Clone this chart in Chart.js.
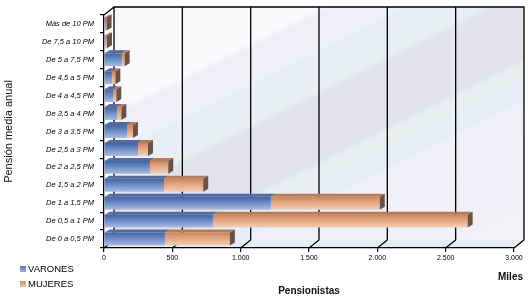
<!DOCTYPE html>
<html>
<head>
<meta charset="utf-8">
<script src="https://cdn.jsdelivr.net/npm/chart.js"></script>
<style>
  body { margin: 0; background: #fff; }
  #contenedor { position: relative; width: 530px; height: 301px; font-family: "Liberation Sans", Arial, sans-serif; }
  #leyenda { position: absolute; left: 20px; top: 262px; font-size: 9.5px; color: #000; line-height: 14.5px; }
  #leyenda span { display: inline-block; width: 6px; height: 6px; margin-right: 2px; vertical-align: 0px; }
  #miles { position: absolute; left: 498px; top: 271px; font-size: 10px; font-weight: bold; color: #111; }
</style>
</head>
<body>
<div id="contenedor">
  <canvas id="grafica" width="530" height="301"></canvas>
  <div id="leyenda">
    <div><span style="background:linear-gradient(#5677b8,#9cb3e0)"></span>VARONES</div>
    <div><span style="background:linear-gradient(#d08c5e,#f2c6a8)"></span>MUJERES</div>
  </div>
  <div id="miles">Miles</div>
</div>
<script>
// datos (miles de pensionistas), de arriba a abajo
const categorias = ['Más de 10 PM', 'De 7,5 a 10 PM', 'De 5 a 7,5 PM', 'De 4,5 a 5 PM', 'De 4 a 4,5 PM',
    'De 3,5 a 4 PM', 'De 3 a 3,5 PM', 'De 2,5 a 3 PM', 'De 2 a 2,5 PM', 'De 1,5 a 2 PM',
    'De 1 a 1,5 PM', 'De 0,5 a 1 PM', 'De 0 a 0,5 PM'];
const varones = [14, 12, 131, 58, 66, 97, 168, 249, 336, 439, 1221, 797, 446];
const mujeres = [5, 10, 20, 25, 24, 30, 44, 73, 134, 287, 797, 1864, 475];
const ejeX = [0, 500, 1000, 1500, 2000, 2500, 3000];

const FUENTE = '"Liberation Sans", Arial, sans-serif';
const GROSOR = 0.72;
const FONDO_DX = 10, FONDO_DY = 8;
const BARRA_DX = 5, BARRA_DY = 3;

function miles(v) { return String(v).replace(/\B(?=(\d{3})+(?!\d))/g, '.'); }

function degradado(paradas, plano) {
    return function (c) {
        const ys = c.chart.scales.y;
        if (c.dataIndex === undefined || !ys || ys.bottom == null) return plano;
        const banda = (ys.bottom - ys.top) / categorias.length;
        const cy = ys.getPixelForValue(c.dataIndex);
        const h = banda * GROSOR;
        const g = c.chart.ctx.createLinearGradient(0, cy - h / 2, 0, cy + h / 2);
        paradas.forEach(p => g.addColorStop(p[0], p[1]));
        return g;
    };
}

// pared del fondo con bandas diagonales y rejilla en perspectiva
const paredFondo = {
    id: 'paredFondo',
    beforeDraw(chart) {
        const { ctx, chartArea: a, scales: { x } } = chart;
        const l = a.left + FONDO_DX, r = a.right + FONDO_DX, t = a.top - FONDO_DY, b = a.bottom - FONDO_DY;
        ctx.save();
        const g = ctx.createLinearGradient(0, 0, 200, 400);
        const bandas = [[0, '#f9f9fb'], [0.335, '#f9f9fb'], [0.345, '#efeff8'], [0.415, '#efeff8'], [0.425, '#e7eef8'],
            [0.465, '#e7eef8'], [0.475, '#e7f0ef'], [0.5, '#e7f0ef'], [0.51, '#e3e3ed'], [0.64, '#e3e3ed'],
            [0.65, '#e7f0ef'], [0.68, '#e7f0ef'], [0.69, '#e7eef8'], [0.72, '#e7eef8'], [0.73, '#efeff8'], [1, '#f1f1f8']];
        bandas.forEach(p => g.addColorStop(p[0], p[1]));
        ctx.fillStyle = g;
        ctx.fillRect(l, t, r - l, b - t);
        // suelo
        ctx.fillStyle = '#e8ebf2';
        ctx.beginPath();
        ctx.moveTo(a.left, a.bottom); ctx.lineTo(l, b); ctx.lineTo(r, b); ctx.lineTo(a.right, a.bottom);
        ctx.closePath(); ctx.fill();
        ctx.strokeStyle = '#000';
        ctx.lineWidth = 1.3;
        ctx.beginPath();
        ctx.moveTo(l, b); ctx.lineTo(l, t); ctx.lineTo(r, t); ctx.lineTo(r, b);
        ctx.moveTo(a.left, a.top); ctx.lineTo(l, t);
        ejeX.forEach(v => {
            const px = x.getPixelForValue(v);
            if (v > 0) { ctx.moveTo(px + FONDO_DX, t); ctx.lineTo(px + FONDO_DX, b); }
            ctx.moveTo(px + FONDO_DX, b); ctx.lineTo(px, a.bottom);
        });
        ctx.stroke();
        ctx.restore();
    }
};

// caras superior y lateral de las barras
const barras3D = {
    id: 'barras3D',
    afterDatasetsDraw(chart) {
        const { ctx } = chart;
        const techos = ['#56699a', '#b07d5c'];
        ctx.save();
        chart.data.datasets.forEach((ds, i) => {
            chart.getDatasetMeta(i).data.forEach(el => {
                const { x, y, base, height } = el.getProps(['x', 'y', 'base', 'height'], true);
                const top = y - height / 2, bot = y + height / 2;
                if (x - base > 0.2) {
                    ctx.fillStyle = techos[i];
                    ctx.beginPath();
                    ctx.moveTo(base, top); ctx.lineTo(base + BARRA_DX, top - BARRA_DY);
                    ctx.lineTo(x + BARRA_DX, top - BARRA_DY); ctx.lineTo(x, top);
                    ctx.closePath(); ctx.fill();
                }
                if (i === chart.data.datasets.length - 1) {
                    ctx.fillStyle = '#6a5244';
                    ctx.beginPath();
                    ctx.moveTo(x, top); ctx.lineTo(x + BARRA_DX, top - BARRA_DY);
                    ctx.lineTo(x + BARRA_DX, bot - BARRA_DY); ctx.lineTo(x, bot);
                    ctx.closePath(); ctx.fill();
                }
            });
        });
        ctx.restore();
    }
};

new Chart(document.getElementById('grafica'), {
    type: 'bar',
    data: {
        labels: categorias,
        datasets: [
            {
                label: 'VARONES', data: varones,
                backgroundColor: degradado([[0, '#42629e'], [0.3, '#5d7ebd'], [1, '#a6bbe5']], '#7394d0'),
                borderWidth: 0
            },
            {
                label: 'MUJERES', data: mujeres,
                backgroundColor: degradado([[0, '#c9845a'], [0.3, '#dd9c74'], [1, '#f5cfb5']], '#e3a882'),
                borderWidth: 0
            }
        ]
    },
    options: {
        indexAxis: 'y',
        responsive: false,
        animation: false,
        barPercentage: GROSOR,
        categoryPercentage: 1,
        layout: { padding: { top: 15, right: 16, left: 0, bottom: 0 } },
        plugins: { legend: { display: false }, tooltip: { enabled: false } },
        scales: {
            x: {
                stacked: true, min: 0, max: 3000,
                afterFit: s => { s.height = 53; },
                afterBuildTicks: s => { s.ticks = ejeX.map(v => ({ value: v })); },
                ticks: { callback: v => miles(v), font: { family: FUENTE, size: 7 }, color: '#000', padding: 2, maxRotation: 0 },
                grid: { drawOnChartArea: false, drawTicks: true, tickLength: 4, color: '#000', lineWidth: 1.2 },
                border: { display: true, color: '#000', width: 1.3 },
                title: { display: true, text: 'Pensionistas', font: { family: FUENTE, size: 10, weight: 'bold' }, color: '#111', padding: { top: 4, bottom: 4 } }
            },
            y: {
                stacked: true,
                afterFit: s => { s.width = 104; },
                ticks: { font: { family: FUENTE, size: 7.5, style: 'italic' }, color: '#000', padding: 6 },
                grid: { drawOnChartArea: false, drawTicks: true, tickLength: 4, color: '#000', lineWidth: 1.2 },
                border: { display: true, color: '#000', width: 1.3 },
                title: { display: true, text: 'Pensión media anual', font: { family: FUENTE, size: 11 }, color: '#111', padding: { top: 2, bottom: 0 } }
            }
        }
    },
    plugins: [paredFondo, barras3D]
});
</script>
</body>
</html>
